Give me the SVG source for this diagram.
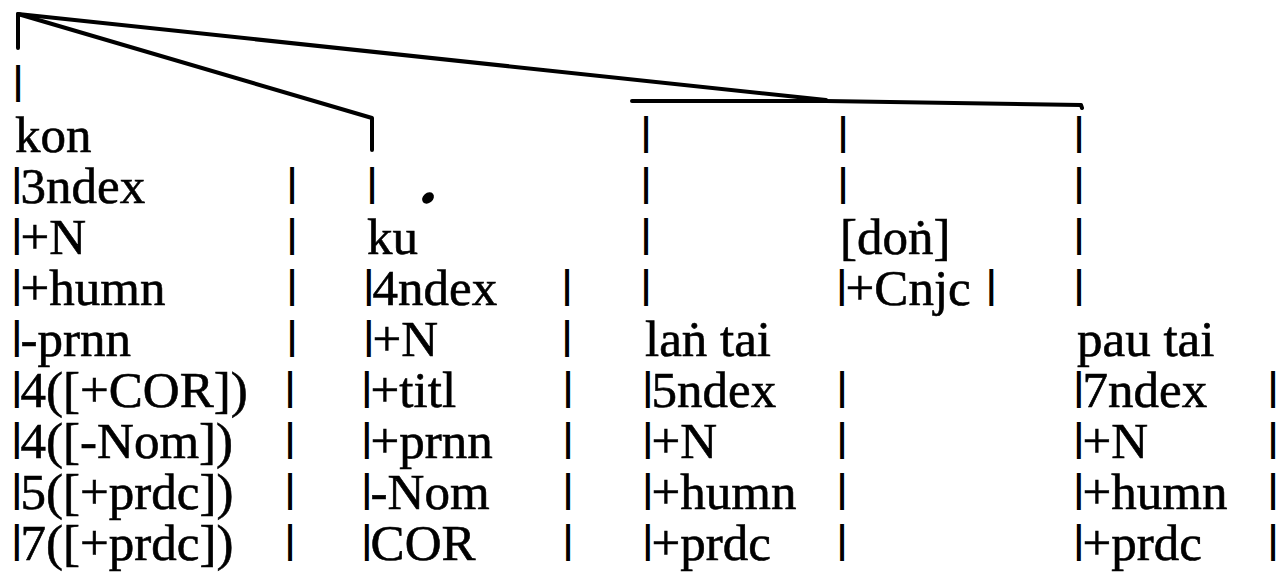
<svg xmlns="http://www.w3.org/2000/svg" width="1281" height="576" viewBox="0 0 1281 576">
<style>
.t{font-family:"Liberation Serif","Times New Roman",serif;font-size:51px;fill:#000;stroke:#000;stroke-width:0.6px}
.b{font-family:"Liberation Serif","Times New Roman",serif;font-size:38px;fill:#000;stroke:#000;stroke-width:2px}
.s{font-family:"Liberation Serif","Times New Roman",serif;font-size:38px;fill:#000;stroke:#000;stroke-width:2px;text-anchor:middle}
.ln{fill:none;stroke:#000;stroke-width:4;stroke-linejoin:round;stroke-linecap:round}
</style>
<rect width="1281" height="576" fill="#fff"/>
<g id="connectors">
<path class="ln" d="M18,48 V14 L826,100"/>
<path class="ln" d="M18,14 L372,118 V150"/>
<path class="ln" d="M632,101 L826,101 L1081,105 L1082,108"/>
</g>
<g id="node-kon">
<text class="s" x="18" y="93">|</text>
<text class="t" x="15" y="152">kon</text>
<text class="t" x="13" y="203"><tspan class="b" dy="-8">|</tspan><tspan dy="8">3ndex</tspan></text>
<text class="t" x="13" y="254"><tspan class="b" dy="-8">|</tspan><tspan dy="8">+N</tspan></text>
<text class="t" x="13" y="305"><tspan class="b" dy="-8">|</tspan><tspan dy="8">+humn</tspan></text>
<text class="t" x="13" y="356"><tspan class="b" dy="-8">|</tspan><tspan dy="8">-prnn</tspan></text>
<text class="t" x="13" y="407"><tspan class="b" dy="-8">|</tspan><tspan dy="8">4([+COR])</tspan></text>
<text class="t" x="13" y="458"><tspan class="b" dy="-8">|</tspan><tspan dy="8">4([-Nom])</tspan></text>
<text class="t" x="13" y="509"><tspan class="b" dy="-8">|</tspan><tspan dy="8">5([+prdc])</tspan></text>
<text class="t" x="13" y="560"><tspan class="b" dy="-8">|</tspan><tspan dy="8">7([+prdc])</tspan></text>
<text class="s" x="292" y="195">|</text>
<text class="s" x="292" y="246">|</text>
<text class="s" x="292" y="297">|</text>
<text class="s" x="292" y="348">|</text>
<text class="s" x="290" y="399">|</text>
<text class="s" x="290" y="450">|</text>
<text class="s" x="290" y="501">|</text>
<text class="s" x="290" y="552">|</text>
</g>
<g id="node-ku">
<text class="s" x="372" y="195">|</text>
<text class="t" x="367" y="254">ku</text>
<text class="t" x="365" y="305"><tspan class="b" dy="-8">|</tspan><tspan dy="8">4ndex</tspan></text>
<text class="t" x="365" y="356"><tspan class="b" dy="-8">|</tspan><tspan dy="8">+N</tspan></text>
<text class="t" x="363" y="407"><tspan class="b" dy="-8">|</tspan><tspan dy="8">+titl</tspan></text>
<text class="t" x="363" y="458"><tspan class="b" dy="-8">|</tspan><tspan dy="8">+prnn</tspan></text>
<text class="t" x="363" y="509"><tspan class="b" dy="-8">|</tspan><tspan dy="8">-Nom</tspan></text>
<text class="t" x="363" y="560"><tspan class="b" dy="-8">|</tspan><tspan dy="8">COR</tspan></text>
<text class="s" x="567" y="297">|</text>
<text class="s" x="567" y="348">|</text>
<text class="s" x="568" y="399">|</text>
<text class="s" x="568" y="450">|</text>
<text class="s" x="568" y="501">|</text>
<text class="s" x="568" y="552">|</text>
<ellipse cx="428" cy="198" rx="6.5" ry="5" transform="rotate(-40 428 198)" fill="#000"/>
</g>
<g id="node-lang-tai">
<text class="s" x="646" y="144">|</text>
<text class="s" x="646" y="195">|</text>
<text class="s" x="646" y="246">|</text>
<text class="s" x="646" y="297">|</text>
<text class="t" x="645" y="356">laṅ tai</text>
<text class="t" x="644" y="407"><tspan class="b" dy="-8">|</tspan><tspan dy="8">5ndex</tspan></text>
<text class="t" x="644" y="458"><tspan class="b" dy="-8">|</tspan><tspan dy="8">+N</tspan></text>
<text class="t" x="644" y="509"><tspan class="b" dy="-8">|</tspan><tspan dy="8">+humn</tspan></text>
<text class="t" x="644" y="560"><tspan class="b" dy="-8">|</tspan><tspan dy="8">+prdc</tspan></text>
<text class="s" x="842" y="399">|</text>
<text class="s" x="842" y="450">|</text>
<text class="s" x="842" y="501">|</text>
<text class="s" x="842" y="552">|</text>
</g>
<g id="node-dong">
<text class="s" x="843" y="144">|</text>
<text class="s" x="843" y="195">|</text>
<text class="t" x="840" y="254">[doṅ]</text>
<text class="t" x="838" y="305"><tspan class="b" dy="-8">|</tspan><tspan dy="8">+Cnjc </tspan><tspan class="b" dx="4" dy="-8">|</tspan></text>
</g>
<g id="node-pau-tai">
<text class="s" x="1079" y="144">|</text>
<text class="s" x="1079" y="195">|</text>
<text class="s" x="1079" y="246">|</text>
<text class="s" x="1079" y="297">|</text>
<text class="t" x="1077" y="356">pau tai</text>
<text class="t" x="1075" y="407"><tspan class="b" dy="-8">|</tspan><tspan dy="8">7ndex</tspan></text>
<text class="t" x="1075" y="458"><tspan class="b" dy="-8">|</tspan><tspan dy="8">+N</tspan></text>
<text class="t" x="1075" y="509"><tspan class="b" dy="-8">|</tspan><tspan dy="8">+humn</tspan></text>
<text class="t" x="1075" y="560"><tspan class="b" dy="-8">|</tspan><tspan dy="8">+prdc</tspan></text>
<text class="s" x="1273" y="399">|</text>
<text class="s" x="1273" y="450">|</text>
<text class="s" x="1273" y="501">|</text>
<text class="s" x="1273" y="552">|</text>
</g>
</svg>
